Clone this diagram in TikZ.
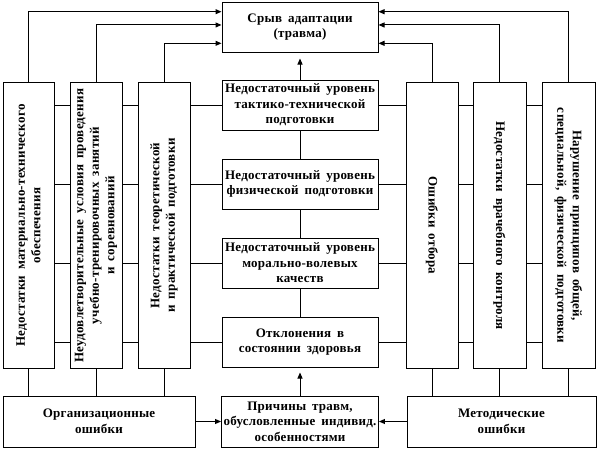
\documentclass[tikz,border=0pt]{standalone}
\usepackage{fontspec}
\setmainfont{Liberation Serif}[LetterSpace=2,WordSpace=1.7]
\usetikzlibrary{arrows.meta,calc}
\newcommand{\fnt}{\fontsize{13}{15.5}\selectfont\bfseries}
\tikzset{
  box/.style={draw, line width=1pt, fill=white, inner sep=2pt, align=center, font=\fnt},
  vtext/.style={align=center, font=\fnt, inner sep=0pt},
  conn/.style={line width=1pt},
  arr/.style={conn, -{Triangle[length=6pt,width=5pt]}},
}
\begin{document}
\begin{tikzpicture}[x=1pt,y=-1pt]
\useasboundingbox (0,0) rectangle (599,450);
% center column
\node[box, minimum width=156, minimum height=50] (top) at (300,27) {Срыв адаптации\\(травма)};
\node[box, minimum width=156, minimum height=50] (A) at (300,105) {Недостаточный уровень\\тактико-технической\\подготовки};
\node[box, minimum width=156, minimum height=50] (B) at (300,184) {Недостаточный уровень\\физической подготовки};
\node[box, minimum width=156, minimum height=50] (C) at (300,263) {Недостаточный уровень\\морально-волевых\\качеств};
\node[box, minimum width=156, minimum height=50] (D) at (300,342) {Отклонения в\\состоянии здоровья};
\node[box, minimum width=156, minimum height=51] (P) at (300,421.5) {Причины травм,\\обусловленные индивид.\\особенностями};
% tall boxes
\node[box, minimum width=51, minimum height=286] (L1) at (28.5,225.5) {};
\node[box, minimum width=52, minimum height=286] (L2) at (96,225.5) {};
\node[box, minimum width=52, minimum height=286] (L3) at (164,225.5) {};
\node[box, minimum width=52, minimum height=286] (R1) at (432,225.5) {};
\node[box, minimum width=53, minimum height=286] (R2) at (499.5,225.5) {};
\node[box, minimum width=53, minimum height=286] (R3) at (568.5,225.5) {};
\node[vtext, rotate=90] (L1t) at (L1) {Недостатки материально-технического\\обеспечения};
\node[vtext, rotate=90] (L2t) at (L2) {Неудовлетворительные условия проведения\\учебно-тренировочных занятий\\и соревнований};
\node[vtext, rotate=90] (L3t) at (L3) {Недостатки теоретической\\и практической подготовки};
\node[vtext, rotate=-90] (R1t) at (R1) {Ошибки отбора};
\node[vtext, rotate=-90] (R2t) at (R2) {Недостатки врачебного контроля};
\node[vtext, rotate=-90] (R3t) at (R3) {Нарушение принципов общей,\\специальной, физической подготовки};
% bottom boxes
\node[box, minimum width=192, minimum height=51] (Org) at (99,421.5) {Организационные\\ошибки};
\node[box, minimum width=189, minimum height=51] (Met) at (501.5,421.5) {Методические\\ошибки};
% horizontal connectors
\foreach \r in {A,B,C,D}{
  \draw[conn] (L1.east |- \r) -- (L2.west |- \r);
  \draw[conn] (L2.east |- \r) -- (L3.west |- \r);
  \draw[conn] (L3.east |- \r) -- (\r.west);
  \draw[conn] (\r.east) -- (R1.west |- \r);
  \draw[conn] (R1.east |- \r) -- (R2.west |- \r);
  \draw[conn] (R2.east |- \r) -- (R3.west |- \r);
}
% center vertical
\draw[conn] (A.south) -- (B.north);
\draw[conn] (B.south) -- (C.north);
\draw[conn] (C.south) -- (D.north);
\draw[arr, shorten >=6pt] (A.north) -- (top.south);
\draw[arr, shorten >=5pt] (P.north) -- (D.south);
% arrows to top
\draw[arr] (L1.north) |- ($(top.north west)!0.2!(top.south west)$);
\draw[arr] (L2.north) |- ($(top.north west)!0.46!(top.south west)$);
\draw[arr] (L3.north) |- ($(top.north west)!0.82!(top.south west)$);
\draw[arr] (R3.north) |- ($(top.north east)!0.2!(top.south east)$);
\draw[arr] (R2.north) |- ($(top.north east)!0.46!(top.south east)$);
\draw[arr] (R1.north) |- ($(top.north east)!0.82!(top.south east)$);
% bottom links
\foreach \b in {L1,L2,L3}{ \draw[conn] (\b.south) -- (\b.south |- Org.north); }
\foreach \b in {R1,R2,R3}{ \draw[conn] (\b.south) -- (\b.south |- Met.north); }
\draw[arr] (Org.east) -- (P.west);
\draw[arr] (Met.west) -- (P.east);
\end{tikzpicture}
\end{document}
